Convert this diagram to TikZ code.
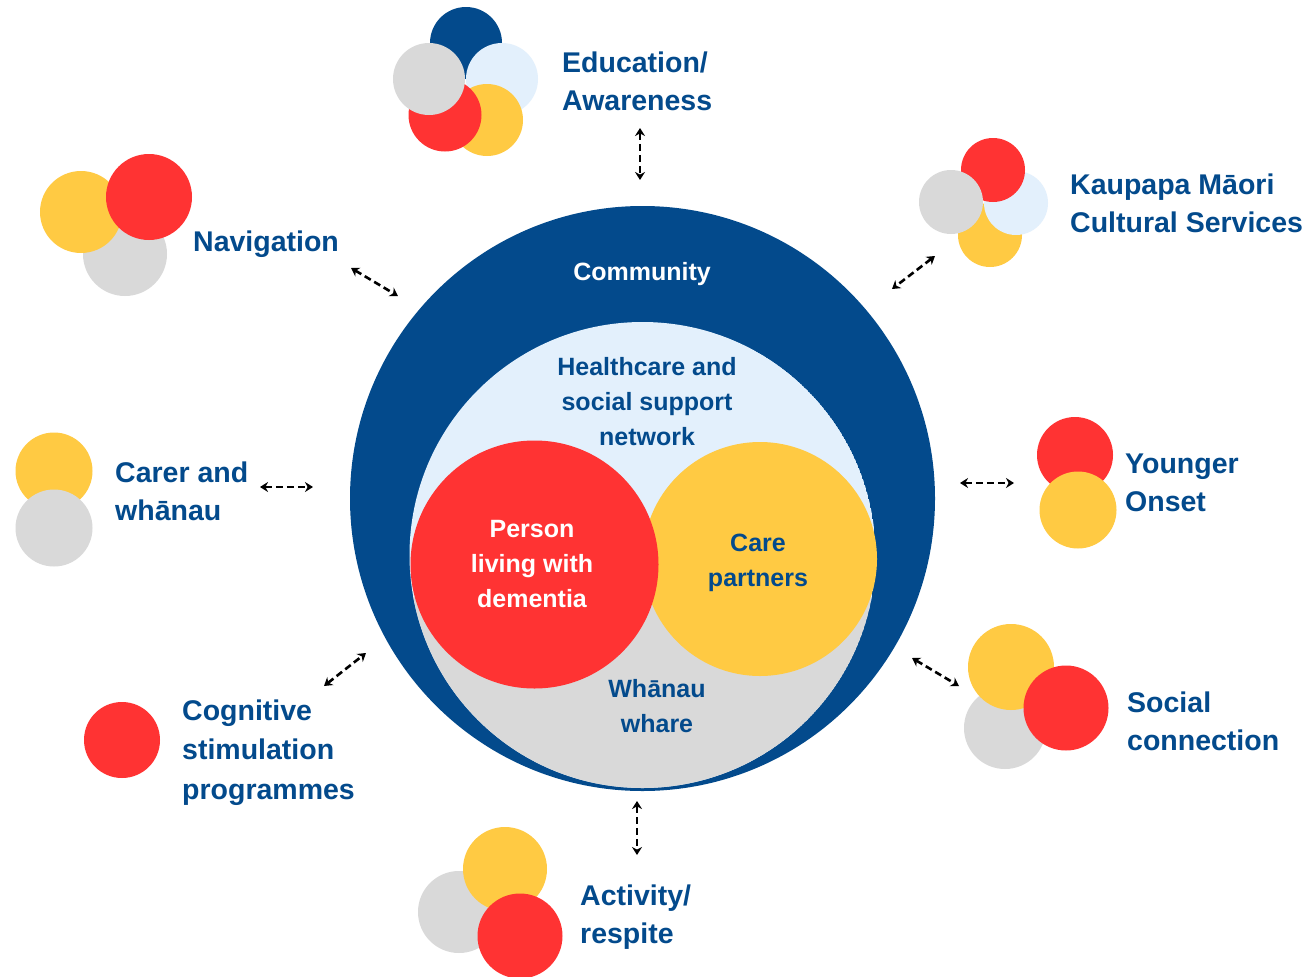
\documentclass[tikz,border=0pt]{standalone}
\usepackage{fontspec}
\setmainfont{Liberation Sans}
\usetikzlibrary{arrows.meta}
\definecolor{navy}{RGB}{3,74,140}
\definecolor{cred}{RGB}{255,51,51}
\definecolor{cyellow}{RGB}{255,202,67}
\definecolor{clblue}{RGB}{227,240,252}
\definecolor{cgrey}{RGB}{217,217,217}
\newcommand\mylines[2][l]{\begin{tabular}[t]{@{}#1@{}}#2\end{tabular}}
\begin{document}
\begin{tikzpicture}[x=1pt,y=-1pt,
  dot/.style={circle,inner sep=0pt,draw=none},
  lab/.style={text=navy,font=\fontsize{28.5}{38.5}\selectfont\bfseries,anchor=base west,inner sep=0pt},
  inlab/.style={font=\fontsize{25}{35}\selectfont\bfseries,anchor=base,inner sep=0pt},
  conn/.style={black,line width=2.6pt,dash pattern=on 7pt off 4pt,{Stealth[length=8pt,width=10pt]}-{Stealth[length=8pt,width=10pt]}}]
\useasboundingbox (0,0) rectangle (1309,977);
\fill[white] (0,0) rectangle (1309,977);

% ---- central diagram ----
\node[dot,fill=navy,minimum size=585pt] (community) at (642.5,498.5) {};
\begin{scope}
  \clip (642.5,555) circle[radius=233];
  \fill[clblue] (642.5,555) circle[radius=233];
  \fill[cgrey] (400,597) rectangle (900,800);
\end{scope}
\coordinate (network) at (642.5,555);
\node[dot,fill=cyellow,minimum size=234pt] (care) at (760,559) {};
\node[dot,fill=cred,minimum size=248pt] (person) at (534.5,564.5) {};

\node[inlab,text=white] (tcommunity) at (642,280) {Community};
\node[inlab,text=navy] (tnetwork) at (647,375) {\mylines[c]{Healthcare and\\social support\\network}};
\node[inlab,text=white] (tperson) at (532,537) {\mylines[c]{Person\\living with\\dementia}};
\node[inlab,text=navy] (tcare) at (758,551) {\mylines[c]{Care\\partners}};
\node[inlab,text=navy] (twhanau) at (657,697) {\mylines[c]{Wh\=anau\\whare}};

% ---- Education / Awareness ----
\node[dot,fill=navy,minimum size=72pt] (edu1) at (466,43) {};
\node[dot,fill=clblue,minimum size=72pt] (edu2) at (502,79) {};
\node[dot,fill=cyellow,minimum size=72pt] (edu4) at (487,120) {};
\node[dot,fill=cred,minimum size=73pt] (edu3) at (445,115) {};
\node[dot,fill=cgrey,minimum size=72pt] (edu5) at (429,79) {};
\node[lab] (tedu) at (562,72) {\mylines{Education/\\Awareness}};

% ---- Kaupapa Maori ----
\node[dot,fill=cyellow,minimum size=64pt] (kau1) at (990,235) {};
\node[dot,fill=clblue,minimum size=64pt] (kau2) at (1016,203) {};
\node[dot,fill=cred,minimum size=64pt] (kau3) at (993,170) {};
\node[dot,fill=cgrey,minimum size=64pt] (kau4) at (951,202) {};
\node[lab] (tkau) at (1070,194) {\mylines{Kaupapa M\=aori\\Cultural Services}};

% ---- Navigation ----
\node[dot,fill=cgrey,minimum size=84pt] (nav1) at (125,254) {};
\node[dot,fill=cyellow,minimum size=82pt] (nav2) at (81,212) {};
\node[dot,fill=cred,minimum size=86pt] (nav3) at (149,197) {};
\node[lab] (tnav) at (193,251) {Navigation};

% ---- Carer and whanau ----
\node[dot,fill=cyellow,minimum size=77pt] (car1) at (54,471) {};
\node[dot,fill=cgrey,minimum size=77pt] (car2) at (54,528) {};
\node[lab] (tcar) at (115,482) {\mylines{Carer and\\wh\=anau}};

% ---- Younger Onset ----
\node[dot,fill=cred,minimum size=76pt] (you1) at (1075,455) {};
\node[dot,fill=cyellow,minimum size=77pt] (you2) at (1078,510) {};
\node[lab] (tyou) at (1125,473) {\mylines{Younger\\Onset}};

% ---- Cognitive stimulation ----
\node[dot,fill=cred,minimum size=76pt] (cog1) at (122,740) {};
\node[lab,font=\fontsize{28.5}{39.5}\selectfont\bfseries] (tcog) at (182,720) {\mylines{Cognitive\\stimulation\\programmes}};

% ---- Social connection ----
\node[dot,fill=cgrey,minimum size=82pt] (soc1) at (1005,728) {};
\node[dot,fill=cyellow,minimum size=86pt] (soc2) at (1011,667) {};
\node[dot,fill=cred,minimum size=85pt] (soc3) at (1066,708) {};
\node[lab] (tsoc) at (1127,712) {\mylines{Social\\connection}};

% ---- Activity / respite ----
\node[dot,fill=cgrey,minimum size=82pt] (act1) at (459,912) {};
\node[dot,fill=cyellow,minimum size=84pt] (act2) at (505,869) {};
\node[dot,fill=cred,minimum size=85pt] (act3) at (520,936) {};
\node[lab] (tact) at (580,905) {\mylines{Activity/\\respite}};

% ---- connectors ----
\coordinate (e1) at (640,128); \coordinate (e2) at (640,180);
\coordinate (k1) at (935,256); \coordinate (k2) at (892,289);
\coordinate (n1) at (351,268); \coordinate (n2) at (398,296);
\coordinate (c1) at (260,487); \coordinate (c2) at (313,487);
\coordinate (y1) at (960,483); \coordinate (y2) at (1014,483);
\coordinate (s1) at (912,658); \coordinate (s2) at (959,686);
\coordinate (g1) at (324,686); \coordinate (g2) at (366,653);
\coordinate (a1) at (637,801); \coordinate (a2) at (637,855);
\draw[conn] (e1) -- (e2);
\draw[conn] (k1) -- (k2);
\draw[conn] (n1) -- (n2);
\draw[conn] (c1) -- (c2);
\draw[conn] (y1) -- (y2);
\draw[conn] (s1) -- (s2);
\draw[conn] (g1) -- (g2);
\draw[conn] (a1) -- (a2);
\end{tikzpicture}
\end{document}
